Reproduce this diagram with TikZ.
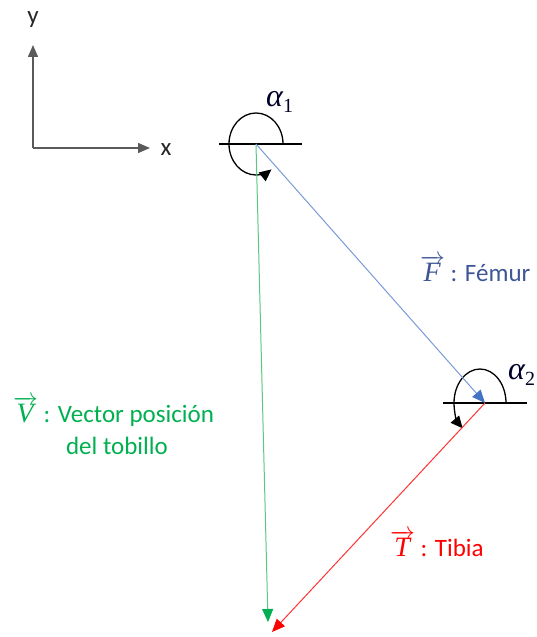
\documentclass[tikz,border=0pt]{standalone}
\usepackage{fontspec}
\setmainfont{Carlito}
\newfontfamily\mathletters{Liberation Serif}
\usetikzlibrary{arrows.meta}
\definecolor{fblue}{RGB}{120,155,215}
\definecolor{fbluedark}{RGB}{68,114,196}
\definecolor{ftext}{RGB}{62,86,150}
\definecolor{vgreen}{RGB}{0,176,80}
\definecolor{vgreenl}{RGB}{90,200,130}
\definecolor{tred}{RGB}{255,0,0}
\definecolor{axisgray}{RGB}{90,90,90}
\newcommand{\vecletter}[1]{$\overrightarrow{\hbox{\mathletters\itshape\fontsize{28}{30}\selectfont #1\kern1pt}}$}
\newcommand{\angname}[1]{{\mathletters\itshape\fontsize{32}{34}\selectfont α}\raisebox{-6pt}{\mathletters\fontsize{20}{22}\selectfont #1}}
\begin{document}
\begin{tikzpicture}[x=1pt,y=1pt,
  lbl/.style={font=\fontsize{25}{30}\selectfont, inner sep=0pt},
  tip/.style={-{Triangle[length=12pt,width=10pt]}},
  axisline/.style={axisgray, line width=1.4pt, tip},
  refline/.style={black, line width=1.4pt},
  anglearc/.style={black, line width=1.3pt, -{Triangle[length=12pt,width=11pt]}}]
\useasboundingbox (0,0) rectangle (537,637);
% axes
\coordinate (O) at (33,489);
\coordinate (Ytip) at (33,592);
\coordinate (Xtip) at (150,489);
\draw[axisline] (O) -- (Ytip);
\draw[axisline] (O) -- (Xtip);
\node[lbl, text=black!85] (ylab) at (33,617) {y};
\node[lbl, text=black!85] (xlab) at (166,487) {x};
% key points
\coordinate (P1) at (256,493);
\coordinate (P2) at (485,234);
\coordinate (Vend) at (268,15);
\coordinate (Tend) at (272,5);
% reference lines
\coordinate (h1a) at (219,493);
\coordinate (h1b) at (302,493);
\coordinate (h2a) at (443,234);
\coordinate (h2b) at (527,234);
\draw[refline] (h1a) -- (h1b);
\draw[refline] (h2a) -- (h2b);
% angle arcs
\coordinate (a1s) at (283,493);
\coordinate (a2s) at (506,234);
\draw[anglearc] (a1s) arc[start angle=0, end angle=305, x radius=27, y radius=31];
\draw[anglearc] (a2s) arc[start angle=0, end angle=228, x radius=26, y radius=34];
\node[lbl, anchor=base west, text=black!85!blue] (alpha1) at (266,530) {\angname{1}};
\node[lbl, anchor=base west, text=black!85!blue] (alpha2) at (508,257) {\angname{2}};
% vectors
\draw[vgreenl, line width=1pt, -{Triangle[length=13pt,width=11pt,fill=vgreen,color=vgreen]}] (P1) -- (Vend);
\draw[fblue, line width=1pt, -{Triangle[length=13pt,width=11pt,fill=fbluedark,color=fbluedark]}] (P1) -- (P2);
\draw[tred!80, line width=1pt, -{Triangle[length=13pt,width=11pt,fill=tred,color=tred]}] (P2) -- (Tend);
% labels
\node[lbl, anchor=base west, text=ftext] (Flab) at (420,355) {\vecletter{F} : Fémur};
\node[lbl, anchor=base west, text=vgreen] (Vlab1) at (13,214) {\vecletter{V} : Vector posición};
\node[lbl, anchor=base, text=vgreen] (Vlab2) at (117,182) {del tobillo};
\node[lbl, anchor=base west, text=tred] (Tlab) at (390,80) {\vecletter{T} : Tibia};
\end{tikzpicture}
\end{document}
